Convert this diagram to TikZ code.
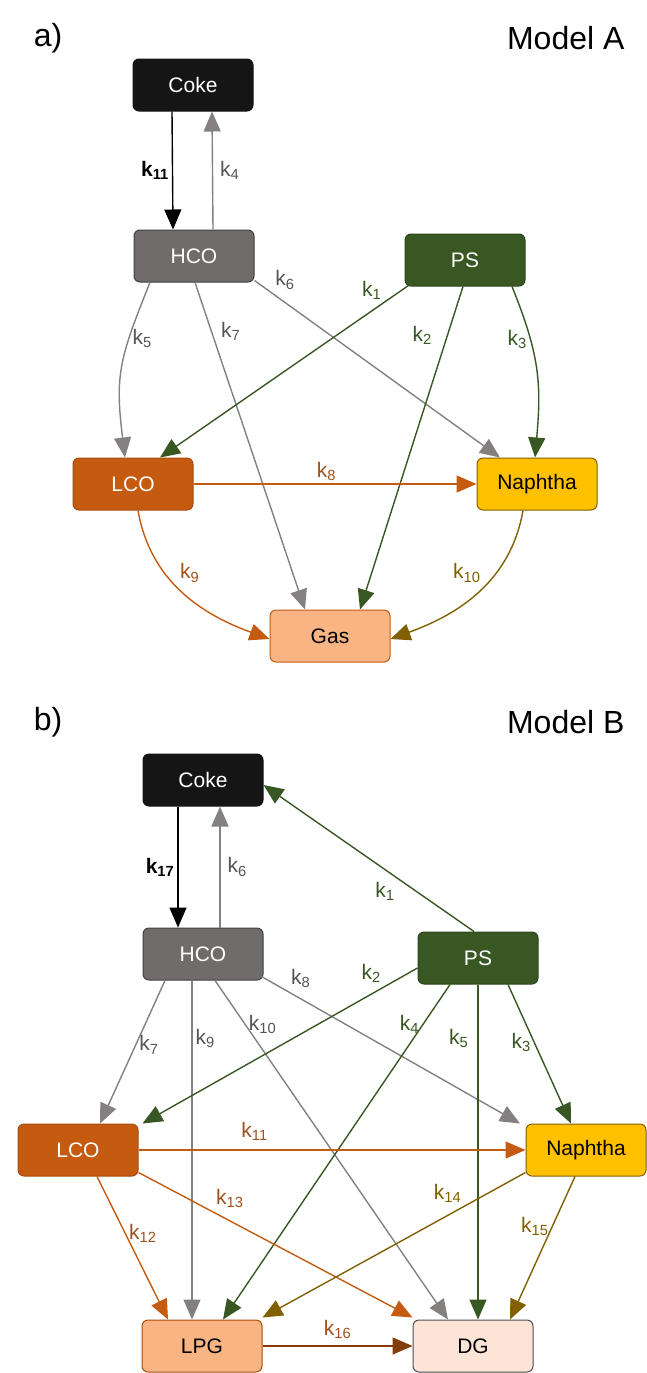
\documentclass[tikz,border=0pt]{standalone}
\usepackage{fontspec}
\setmainfont{Liberation Sans}
\usetikzlibrary{arrows.meta}
\definecolor{cokec}{HTML}{151515}
\definecolor{hcoc}{HTML}{716C6C}
\definecolor{psc}{HTML}{385723}
\definecolor{lcoc}{HTML}{C55A11}
\definecolor{naphc}{HTML}{FFC000}
\definecolor{gasc}{HTML}{F8B483}
\definecolor{dgc}{HTML}{FCE4D6}
\definecolor{gryc}{HTML}{858080}
\definecolor{gtxt}{HTML}{555555}
\definecolor{brnc}{HTML}{806000}
\definecolor{otxt}{HTML}{A0501A}
\definecolor{dbrn}{HTML}{843C0C}
\newcommand{\kk}[1]{k\textsubscript{#1}}

\begin{document}
\begin{tikzpicture}[x=1pt,y=-1pt,
  box/.style={rounded corners=6pt, minimum width=120pt, minimum height=52pt, line width=1pt, font=\fontsize{21}{23}\selectfont},
  lbl/.style={font=\fontsize{21}{22}\selectfont, inner sep=3pt},
  arr/.style={-{Triangle[width=17pt,length=20pt]}, line width=1.4pt},
  ttl/.style={font=\fontsize{32}{34}\selectfont}]
  \useasboundingbox (0,0) rectangle (647,1373);

  % model A
  \node[ttl] (ttlA) at (48,38) {a)};
  \node[ttl, anchor=east] (mdlA) at (628,38) {Model A};
  \node[box, fill=cokec, draw=cokec, text=white] (cokeA) at (193,85) {Coke};
  \node[box, fill=hcoc, draw=black!75, text=white] (hcoA) at (194,256) {HCO};
  \node[box, fill=psc, draw=psc!80!black, text=white] (psA) at (465,260) {PS};
  \node[box, fill=lcoc, draw=lcoc!85!black, text=white] (lcoA) at (133,484) {LCO};
  \node[box, fill=naphc, draw=brnc] (naphA) at (537,484) {Naphtha};
  \node[box, fill=gasc, draw=lcoc] (gasA) at (330,636) {Gas};

  \path[arr, black]
    ([xshift=-21pt]cokeA.south) edge node[lbl, left] (k11A) {\bfseries\kk{11}} ([xshift=-21pt]hcoA.north);
  \path[arr, gryc]
    ([xshift=19pt]hcoA.north) edge node[lbl, right=4pt, text=gtxt] (k4A) {\kk{4}} ([xshift=19pt]cokeA.south)
    ([xshift=-44pt]hcoA.south) edge[out=-112, in=97, looseness=1.2] node[lbl, pos=0.3, right, text=gtxt] (k5A) {\kk{5}} ([xshift=-8pt]lcoA.north)
    ([xshift=1pt]hcoA.south) edge node[lbl, pos=0.15, right=6pt, text=gtxt] (k7A) {\kk{7}} ([xshift=-25pt]gasA.north)
    ([yshift=2pt]hcoA.south east) edge node[lbl, pos=0.07, above right, text=gtxt] (k6A) {\kk{6}} ([xshift=-37pt]naphA.north);
  \path[arr, psc]
    ([xshift=4pt,yshift=1pt]psA.south west) edge node[lbl, pos=0.03, left=16pt] (k1A) {\kk{1}} ([xshift=27pt]lcoA.north)
    ([xshift=-2pt]psA.south) edge node[lbl, pos=0.15, left=12pt] (k2A) {\kk{2}} ([xshift=30pt]gasA.north)
    ([xshift=47pt]psA.south) edge[out=-68, in=85, looseness=1.1] node[lbl, pos=0.3, left] (k3A) {\kk{3}} ([xshift=-2pt]naphA.north);
  \path[arr, lcoc]
    (lcoA.east) edge node[lbl, pos=0.47, above, text=otxt] (k8A) {\kk{8}} (naphA.west)
    ([xshift=5pt]lcoA.south) edge[out=-80, in=160] node[lbl, pos=0.45, above right, text=otxt] (k9A) {\kk{9}} ([yshift=-3pt]gasA.west);
  \path[arr, brnc]
    ([xshift=-14pt]naphA.south) edge[out=-100, in=20] node[lbl, pos=0.45, above left] (k10A) {\kk{10}} ([yshift=-3pt]gasA.east);

  % model B
  \node[ttl] (ttlB) at (48,722) {b)};
  \node[ttl, anchor=east] (mdlB) at (628,722) {Model B};
  \node[box, fill=cokec, draw=cokec, text=white] (cokeB) at (203,780) {Coke};
  \node[box, fill=hcoc, draw=black!75, text=white] (hcoB) at (203,954) {HCO};
  \node[box, fill=psc, draw=psc!80!black, text=white] (psB) at (478,958) {PS};
  \node[box, fill=lcoc, draw=lcoc!85!black, text=white] (lcoB) at (78,1150) {LCO};
  \node[box, fill=naphc, draw=brnc] (naphB) at (586,1150) {Naphtha};
  \node[box, fill=gasc, draw=lcoc!85!black] (lpgB) at (202,1346) {LPG};
  \node[box, fill=dgc, draw=black!70] (dgB) at (473,1346) {DG};

  \path[arr, black]
    ([xshift=-25pt]cokeB.south) edge node[lbl, left] (k17B) {\bfseries\kk{17}} ([xshift=-25pt]hcoB.north);
  \path[arr, gryc]
    ([xshift=17pt]hcoB.north) edge node[lbl, right=4pt, text=gtxt] (k6B) {\kk{6}} ([xshift=17pt]cokeB.south)
    ([xshift=-38pt]hcoB.south) edge node[lbl, pos=0.45, right, text=gtxt] (k7B) {\kk{7}} ([xshift=22pt]lcoB.north)
    ([xshift=-11pt]hcoB.south) edge node[lbl, pos=0.17, right, text=gtxt] (k9B) {\kk{9}} ([xshift=-10pt]lpgB.north)
    ([xshift=12pt]hcoB.south) edge node[lbl, pos=0.13, right, text=gtxt] (k10B) {\kk{10}} ([xshift=-25pt]dgB.north)
    ([xshift=-2pt,yshift=4pt]hcoB.south east) edge node[lbl, pos=0.1, above right, text=gtxt] (k8B) {\kk{8}} ([xshift=-66pt]naphB.north);
  \path[arr, psc]
    ([xshift=-4pt]psB.north) edge node[lbl, pos=0.36, below left] (k1B) {\kk{1}} ([yshift=-5pt]cokeB.east)
    ([yshift=-10pt]psB.west) edge node[lbl, pos=0.12, above left] (k2B) {\kk{2}} ([xshift=4pt]lcoB.north east)
    ([xshift=-28pt]psB.south) edge node[lbl, pos=0.12, left] (k4B) {\kk{4}} ([xshift=21pt]lpgB.north)
    (psB.south) edge node[lbl, pos=0.16, left=6pt] (k5B) {\kk{5}} (psB.south |- dgB.north)
    ([xshift=30pt]psB.south) edge node[lbl, pos=0.42, left] (k3B) {\kk{3}} ([xshift=-15pt]naphB.north);
  \path[arr, lcoc]
    (lcoB.east) edge node[lbl, pos=0.3, above=6pt, text=otxt] (k11B) {\kk{11}} (naphB.west)
    ([xshift=19pt]lcoB.south) edge node[lbl, pos=0.4, right, text=otxt] (k12B) {\kk{12}} ([xshift=-34pt]lpgB.north)
    ([yshift=4pt]lcoB.south east) edge node[lbl, pos=0.27, above right, text=otxt] (k13B) {\kk{13}} ([yshift=2pt]dgB.north west);
  \path[arr, brnc]
    ([yshift=4pt]naphB.south west) edge node[lbl, pos=0.23, above left] (k14B) {\kk{14}} ([yshift=2pt]lpgB.north east)
    ([xshift=-11pt]naphB.south) edge node[lbl, pos=0.35, left] (k15B) {\kk{15}} ([xshift=37pt]dgB.north);
  \path[arr, dbrn]
    (lpgB.east) edge node[lbl, above=4pt, text=otxt] (k16B) {\kk{16}} (dgB.west);
\end{tikzpicture}
\end{document}
